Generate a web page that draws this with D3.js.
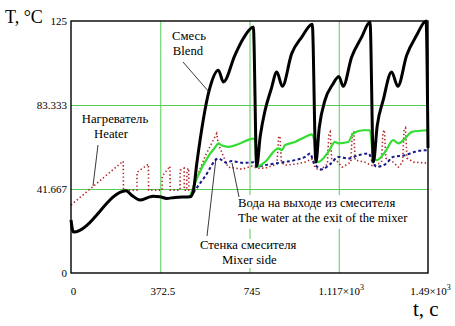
<!DOCTYPE html>
<html lang="ru">
<head>
<meta charset="UTF-8">
<title>T(t)</title>
<script src="https://d3js.org/d3.v7.min.js"></script>
<style>
  html, body { margin: 0; background: #fff; overflow: hidden; }
  svg { display: block; }
  text { font-family: "Liberation Serif", "Times New Roman", "DejaVu Serif", serif; fill: #000; }
</style>
</head>
<body>
<svg id="svg" width="455" height="326"></svg>
<script>
// ---- data (t in s, T in °C) ----
const xTicks = [0, 372.5, 745, 1117.5, 1490];
const xTickLabels = ["0", "372.5", "745", "1.117×10", "1.49×10"];
const xTickSup = ["", "", "", "3", "3"];
const yTicks = [0, 41.667, 83.333, 125];
const yTickLabels = ["0", "41.667", "83.333", "125"];

// blend (смесь)
const blendTime = [0, 10, 230, 253, 288, 323, 343, 371, 399, 434, 497, 510, 525, 577, 615, 636, 684, 719, 761,
  775, 790, 810, 835, 859, 882, 921, 963, 1007,
  1022, 1036, 1060, 1092, 1118, 1136, 1171, 1213, 1248,
  1262, 1278, 1303, 1338, 1364, 1401, 1443, 1482, 1490];
const blendTemp = [26.3, 20.3, 40.8, 38.6, 36.2, 37.5, 38.1, 37.8, 37.0, 37.5, 37.8, 40.3, 54.3, 90.7, 100.6, 94.8, 108, 116.3, 122,
  53, 68, 80.7, 91, 99.7, 92.6, 108.8, 117, 123.4,
  55, 72, 85.7, 93.5, 97.5, 92.6, 107, 117, 124.5,
  55, 73, 85.7, 99.7, 92.6, 108, 118, 125, 62];

// green
const greenTime = [497, 504, 608, 615, 630, 657, 700, 761, 768, 775, 810, 865, 879, 893, 935, 977, 1005, 1012,
  1025, 1032, 1074, 1102, 1116, 1157, 1178, 1220, 1248, 1262, 1276, 1311, 1345, 1366, 1394, 1422, 1490];
const greenTemp = [37.8, 40.3, 63.4, 64.3, 63.2, 62.6, 64, 66.7, 66, 52.7, 55.1, 61.8, 60.9, 63.4, 65, 67.5, 68.8, 67.5,
  55.1, 55.1, 60.1, 65, 64.3, 65, 69.2, 70.8, 70.8, 56.8, 56, 60.1, 65.9, 64.3, 66.7, 70, 70.8];

// blue dashed
const blueTime = [497, 505, 560, 615, 650, 670, 720, 761, 775, 810, 850, 893, 935, 977, 998,
  1012, 1032, 1046, 1081, 1116, 1157, 1199, 1241, 1262, 1276, 1311, 1345, 1394, 1436, 1478, 1490];
const blueTemp = [37.8, 39, 48, 56.8, 54.6, 55.5, 54.6, 54.9, 52.7, 53.5, 54.3, 55.1, 56, 57.6, 59.3,
  55.1, 52.2, 51.4, 53.9, 57.6, 56.8, 58.4, 59.3, 54.3, 52.7, 53.9, 57.6, 58.4, 60.1, 60.9, 60.5];

// heater (нагреватель), red dotted
const heaterTime = [0, 218, 219, 275, 276, 323, 324, 380, 381, 413, 414, 455, 456, 472, 473, 483, 484, 491, 492, 504,
  560, 608, 615, 655, 714, 755, 775, 810, 860, 866, 872, 878, 893, 935, 977, 1005, 1020, 1040,
  1070, 1076, 1082, 1088, 1110, 1132, 1168, 1174, 1180, 1186, 1225, 1262, 1296, 1302, 1308, 1314,
  1345, 1366, 1384, 1390, 1396, 1402, 1430, 1490];
const heaterTemp = [33.7, 55.5, 41.1, 41.1, 50, 54, 41.1, 41.1, 48, 53, 41.1, 41.1, 51, 52, 41.1, 41.1, 51, 52, 41.1, 41.1,
  58, 69.2, 64, 52.5, 51.5, 53, 52, 52, 54, 67, 68, 55, 53.5, 54, 55, 56.5, 52, 51,
  54, 69, 70, 56, 55.5, 52.5, 55, 70, 70, 56, 55, 53, 55, 70, 71, 57,
  55, 52.5, 55, 71, 72, 57, 55, 54.5];

// ---- layout ----
const svg = d3.select("#svg");
const margin = { top: 21, left: 71, bottom: 53, right: 27 };
const width = +svg.attr("width");
const height = +svg.attr("height");
const innerWidth = width - margin.left - margin.right;
const innerHeight = height - margin.top - margin.bottom;

const x = d3.scaleLinear().domain([0, 1490]).range([margin.left, margin.left + innerWidth]);
const y = d3.scaleLinear().domain([0, 125]).range([margin.top + innerHeight, margin.top]);

// grid
const grid = svg.append("g");
grid.append("g")
  .attr("transform", `translate(0,${margin.top + innerHeight})`)
  .call(d3.axisBottom(x).tickValues(xTicks.slice(1, -1)).tickSize(-innerHeight).tickFormat(""));
grid.append("g")
  .attr("transform", `translate(${margin.left},0)`)
  .call(d3.axisLeft(y).tickValues(yTicks.slice(1, -1)).tickSize(-innerWidth).tickFormat(""));
grid.selectAll(".domain, text").remove();
grid.selectAll("line").attr("stroke", "#55cc55").attr("stroke-width", 1);

// white boxes behind the lower labels
svg.append("rect").attr("x", 236).attr("y", 195).attr("width", 174).attr("height", 34).attr("fill", "#fff");
svg.append("rect").attr("x", 199).attr("y", 239).attr("width", 108).attr("height", 29).attr("fill", "#fff");

// series
const line = d3.line().x(d => x(d[0])).y(d => y(d[1]));
const zip = (a, b) => a.map((v, i) => [v, b[i]]);

svg.append("path").datum(zip(heaterTime, heaterTemp))
  .attr("d", line).attr("fill", "none")
  .attr("stroke", "#b0282a").attr("stroke-width", 1.6).attr("stroke-dasharray", "1.4,2.4");

svg.append("path").datum(zip(blueTime, blueTemp))
  .attr("d", line.curve(d3.curveMonotoneX)).attr("fill", "none")
  .attr("stroke", "#1a1a90").attr("stroke-width", 2).attr("stroke-dasharray", "3,2.5");

svg.append("path").datum(zip(greenTime, greenTemp))
  .attr("d", line.curve(d3.curveMonotoneX)).attr("fill", "none")
  .attr("stroke", "#33dd33").attr("stroke-width", 2.2);

svg.append("path").datum(zip(blendTime, blendTemp))
  .attr("d", line.curve(d3.curveMonotoneX)).attr("fill", "none")
  .attr("stroke", "#000").attr("stroke-width", 3).attr("stroke-linejoin", "round");

// frame
svg.append("rect")
  .attr("x", margin.left).attr("y", margin.top)
  .attr("width", innerWidth).attr("height", innerHeight)
  .attr("fill", "none").attr("stroke", "#000").attr("stroke-width", 1.4);

// tick labels
svg.append("g")
  .attr("transform", `translate(${margin.left},0)`)
  .call(d3.axisLeft(y).tickValues(yTicks).tickSize(0).tickPadding(4)
    .tickFormat((d, i) => yTickLabels[i]))
  .call(g => g.select(".domain").remove())
  .selectAll("text").attr("font-size", 11);

const xa = svg.append("g")
  .attr("transform", `translate(2,${margin.top + innerHeight})`)
  .call(d3.axisBottom(x).tickValues(xTicks).tickSize(0).tickPadding(14).tickFormat(""))
  .call(g => g.select(".domain").remove());
xa.selectAll(".tick text").each(function(d, i) {
  const t = d3.select(this).attr("font-size", 11);
  t.append("tspan").text(xTickLabels[i]);
  if (xTickSup[i]) t.append("tspan").attr("dy", "-5").attr("font-size", 8).text(xTickSup[i]);
});

svg.append("text").attr("x", 5).attr("y", 23).attr("font-size", 18).text("T, °C");
svg.append("text").attr("x", 413).attr("y", 316).attr("font-size", 21).text("t, c");

// annotations
const lead = (x1, y1, x2, y2) => svg.append("line")
  .attr("x1", x1).attr("y1", y1).attr("x2", x2).attr("y2", y2)
  .attr("stroke", "#222").attr("stroke-width", 0.9);
lead(183, 62, 209, 92);
lead(98, 145, 93, 186);
lead(232, 163, 239, 197);
lead(216, 158, 207, 236);

const note = (tx, ty, s, anchor) => svg.append("text")
  .attr("x", tx).attr("y", ty).attr("text-anchor", anchor || "start")
  .attr("font-size", 12.7).text(s);
note(189, 40, "Смесь", "middle");
note(188, 55, "Blend", "middle");
note(115, 123, "Нагреватель", "middle");
note(111, 138, "Heater", "middle");
note(238, 207, "Вода на выходе из смесителя");
note(238, 222, "The water at the exit of the mixer");
note(200, 249, "Стенка смесителя");
note(222, 264, "Mixer side");
</script>
</body>
</html>
